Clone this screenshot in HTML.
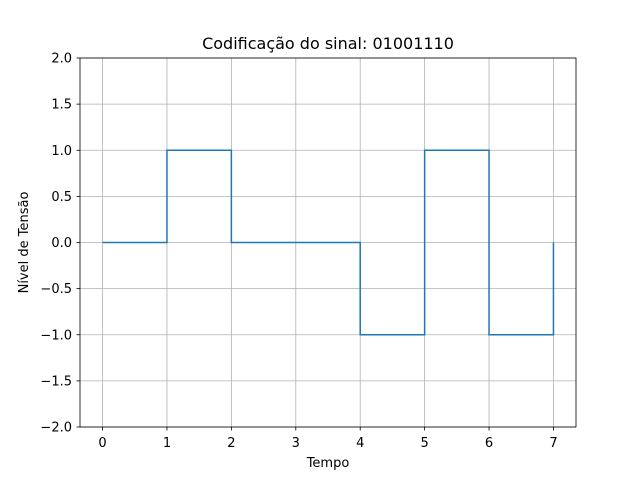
<!DOCTYPE html>
<html><head><meta charset="utf-8"><style>
body{margin:0;background:#fff}
svg text{font-family:"DejaVu Sans","Liberation Sans",sans-serif;fill:#000}
</style></head><body>
<svg id="chart" width="640" height="480">
<rect width="640" height="480" fill="#fff"/>
<g id="grid"></g>
<g id="ticks"></g>
<path id="line" fill="none" stroke="#1f77b4" stroke-width="1.5"/>
<rect x="80" y="58" width="496" height="369" fill="none" stroke="#000" stroke-width="0.8"/>
<text x="328" y="49" font-size="16" text-anchor="middle">Codificação do sinal: 01001110</text>
<text x="328" y="467" font-size="13" text-anchor="middle">Tempo</text>
<text x="28" y="242.5" font-size="13" text-anchor="middle" transform="rotate(-90 28 242.5)">Nível de Tensão</text>
</svg>
<script>
const times=[0,1,2,3,4,5,6,7];
const levels=[0,1,0,0,-1,1,-1,0];
const xTicks=[0,1,2,3,4,5,6,7];
const yTicks=[-2,-1.5,-1,-0.5,0,0.5,1,1.5,2];
const NS='http://www.w3.org/2000/svg';
function X(v){return 80+(v+0.35)/7.7*496;}
function Y(v){return 427-(v+2)/4*369;}
const grid=document.getElementById('grid'),ticks=document.getElementById('ticks');
function mk(tag,attrs,parent){const e=document.createElementNS(NS,tag);for(const k in attrs)e.setAttribute(k,attrs[k]);parent.appendChild(e);return e;}
xTicks.forEach(t=>{
 const g=mk('line',{x1:X(t),x2:X(t),y1:58,y2:427,stroke:'#b0b0b0','stroke-width':0.8},grid);
 
 
 mk('line',{x1:X(t),x2:X(t),y1:427,y2:430.5,stroke:'#000','stroke-width':0.8},ticks);
 const tx=mk('text',{x:X(t),y:447,'font-size':13,'text-anchor':'middle'},ticks);
 tx.textContent=t;
 
 
});
yTicks.forEach(t=>{
 const g=mk('line',{x1:80,x2:576,y1:Y(t),y2:Y(t),stroke:'#b0b0b0','stroke-width':0.8},grid);
 
 
 mk('line',{x1:76.5,x2:80,y1:Y(t),y2:Y(t),stroke:'#000','stroke-width':0.8},ticks);
 const tx=mk('text',{x:72,y:Y(t)+4.5,'font-size':13,'text-anchor':'end'},ticks);
 tx.textContent=t.toFixed(1).replace('-','\u2212');
 
 
});
let d='M'+X(times[0])+','+Y(levels[0]);
for(let i=1;i<times.length;i++){d+=' L'+X(times[i])+','+Y(levels[i-1])+' L'+X(times[i])+','+Y(levels[i]);}
document.getElementById('line').setAttribute('d',d);
</script>
</body></html>
